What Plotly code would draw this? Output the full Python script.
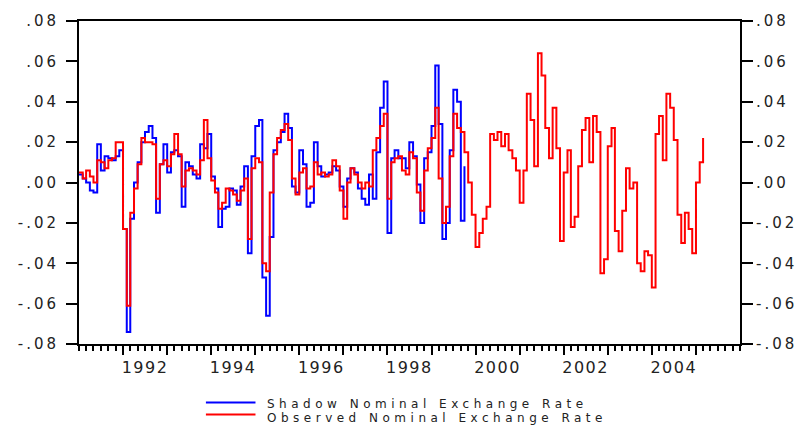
import pandas as pd
import plotly.graph_objects as go

# Monthly rates of change, starting January 1991
start_month = "1991-01-01"

observed_rate = [
    0.005, 0.002, 0.006, 0.003, 0.000, 0.011, 0.010, 0.007, 0.011, 0.012,
    0.020, 0.020, -0.023, -0.061, -0.015, -0.003, 0.009, 0.022, 0.020, 0.020,
    0.019, -0.008, 0.009, 0.011, 0.008, 0.014, 0.024, 0.014, -0.002, 0.006,
    0.007, 0.006, 0.004, 0.011, 0.031, 0.012, 0.001, -0.005, -0.013, -0.010,
    -0.003, -0.004, -0.006, -0.009, -0.004, 0.002, -0.028, 0.007, 0.012, 0.010,
    -0.040, -0.044, -0.005, 0.014, 0.022, 0.026, 0.029, 0.021, 0.002, -0.006,
    0.005, 0.007, -0.003, -0.002, 0.010, 0.004, 0.005, 0.003, 0.004, 0.011,
    0.008, -0.004, -0.018, 0.000, 0.007, 0.004, 0.000, -0.003, 0.000, -0.002,
    0.016, 0.022, 0.028, 0.034, -0.008, 0.010, 0.012, 0.013, 0.006, 0.004,
    0.015, 0.012, -0.005, -0.014, 0.006, 0.017, 0.022, 0.037, 0.002, -0.020,
    -0.012, 0.013, 0.034, 0.027, 0.025, 0.015, 0.000, -0.016, -0.032, -0.025,
    -0.018, -0.012, 0.024, 0.021, 0.025, 0.018, 0.024, 0.016, 0.012, 0.006,
    -0.010, 0.006, 0.044, 0.031, 0.008, 0.064, 0.053, 0.027, 0.012, 0.037,
    0.017, -0.029, 0.005, 0.016, -0.022, -0.017, 0.008, 0.026, 0.032, 0.010,
    0.033, 0.025, -0.045, -0.038, 0.018, 0.027, -0.024, -0.034, -0.014, 0.007,
    -0.003, 0.000, -0.040, -0.044, -0.034, -0.036, -0.052, 0.024, 0.033, 0.011,
    0.044, 0.037, 0.021, -0.016, -0.030, -0.015, -0.023, -0.035, 0.000, 0.010,
    0.022,
]

shadow_rate = [
    0.004, 0.002, 0.000, -0.004, -0.005, 0.019, 0.006, 0.013, 0.012, 0.011,
    0.013, 0.016, -0.023, -0.074, -0.018, 0.000, 0.010, 0.020, 0.025, 0.028,
    0.022, -0.015, 0.009, 0.019, 0.005, 0.015, 0.016, 0.013, -0.012, 0.010,
    0.008, 0.004, 0.002, 0.019, 0.017, 0.024, 0.003, -0.003, -0.022, -0.013,
    -0.012, -0.003, -0.004, -0.011, -0.002, 0.008, -0.035, 0.013, 0.028, 0.031,
    -0.047, -0.066, -0.027, 0.016, 0.020, 0.025, 0.034, 0.027, -0.002, -0.005,
    0.016, 0.009, -0.012, -0.010, 0.020, 0.008, 0.003, 0.004, 0.005, 0.008,
    0.006, -0.002, -0.012, 0.002, 0.007, 0.005, -0.003, -0.008, -0.011, 0.004,
    -0.008, 0.015, 0.037, 0.050, -0.025, 0.012, 0.016, 0.012, 0.012, 0.007,
    0.020, 0.013, -0.001, -0.020, 0.012, 0.015, 0.028, 0.058, 0.029, -0.028,
    -0.020, 0.016, 0.046, 0.040, -0.019, 0.008,
]

series_names = ["Shadow Nominal Exchange Rate", "Observed Nominal Exchange Rate"]

y_tick_values = [-0.08, -0.06, -0.04, -0.02, 0.00, 0.02, 0.04, 0.06, 0.08]
y_tick_labels = ["-.08", "-.06", "-.04", "-.02", ".00", ".02", ".04", ".06", ".08"]
label_years = [1992, 1994, 1996, 1998, 2000, 2002, 2004]

months_obs = pd.date_range(start_month, periods=len(observed_rate), freq="MS")
months_shadow = months_obs[: len(shadow_rate)]
year_starts = pd.date_range("1992-01-01", "2005-01-01", freq="YS")
year_middles = [pd.Timestamp(f"{y}-07-01") for y in label_years]

x_range = ["1991-01-01", "2006-01-01"]
BLUE = "#0000FF"
RED = "#FF0000"
INK = "#222222"
TICK_FONT = "DejaVu Sans"

fig = go.Figure()
fig.add_trace(go.Scatter(
    x=months_shadow, y=shadow_rate, name=series_names[0],
    mode="lines", line=dict(color=BLUE, width=2, shape="hv"),
    xaxis="x", yaxis="y", showlegend=False,
))
fig.add_trace(go.Scatter(
    x=months_obs, y=observed_rate, name=series_names[1],
    mode="lines", line=dict(color=RED, width=2, shape="hv"),
    xaxis="x2", yaxis="y2", showlegend=False,
))

common_y = dict(
    range=[-0.08, 0.08], tickmode="array", tickvals=y_tick_values,
    ticktext=y_tick_labels, ticks="outside", ticklen=11, tickwidth=1.5,
    tickcolor="black", showline=True, linecolor="black", linewidth=2,
    showgrid=False, zeroline=False,
    tickfont=dict(family=TICK_FONT, size=15, color=INK),
)

fig.update_layout(
    width=807, height=435,
    margin=dict(l=79, r=67, t=18, b=91),
    paper_bgcolor="white", plot_bgcolor="white",
    showlegend=False,
    xaxis=dict(
        type="date", range=x_range, tickmode="array", tickvals=year_starts,
        showticklabels=False, ticks="outside", ticklen=9, tickwidth=1.5,
        tickcolor="black", showline=True, linecolor="black", linewidth=2,
        mirror=True, showgrid=False, zeroline=False,
        minor=dict(dtick="M2", tick0="1991-01-01", ticks="outside",
                   ticklen=5, tickwidth=1.5, tickcolor="black", showgrid=False),
    ),
    xaxis2=dict(
        type="date", range=x_range, overlaying="x", anchor="y2", side="bottom",
        tickmode="array", tickvals=year_middles,
        ticktext=[str(y) for y in label_years],
        ticks="outside", ticklen=9, tickcolor="rgba(0,0,0,0)",
        showline=False, showgrid=False, zeroline=False,
        tickfont=dict(family=TICK_FONT, size=16, color=INK),
    ),
    yaxis=dict(side="left", ticklabelstandoff=4, **common_y),
    yaxis2=dict(side="right", overlaying="y", anchor="x2", **common_y),
)

# Legend drawn below the plot: short line samples with their labels
legend_rows = [(-0.181, -0.187, BLUE), (-0.218, -0.230, RED)]
for (line_y, text_y, colour), label in zip(legend_rows, series_names):
    fig.add_shape(type="line", xref="paper", yref="paper",
                  x0=0.192, x1=0.267, y0=line_y, y1=line_y,
                  line=dict(color=colour, width=2))
    fig.add_annotation(xref="paper", yref="paper", x=0.283, y=text_y,
                       xanchor="left", yanchor="middle", align="left",
                       showarrow=False, text=label, borderpad=0,
                       font=dict(family=TICK_FONT, size=12, color=INK))

# Wide letter spacing for the axis and legend texts
spacing_js = """
var gd = document.getElementById('{plot_id}');
function widenText() {
  gd.querySelectorAll('.x2tick text').forEach(function (t) { t.style.letterSpacing = '1.5px'; });
  gd.querySelectorAll('.ytick text, .y2tick text').forEach(function (t) { t.style.letterSpacing = '3px'; });
  gd.querySelectorAll('.annotation-text').forEach(function (t) { t.style.letterSpacing = '4.5px'; });
}
widenText();
gd.on('plotly_afterplot', widenText);
"""

fig.write_html("out.html", post_script=spacing_js)
